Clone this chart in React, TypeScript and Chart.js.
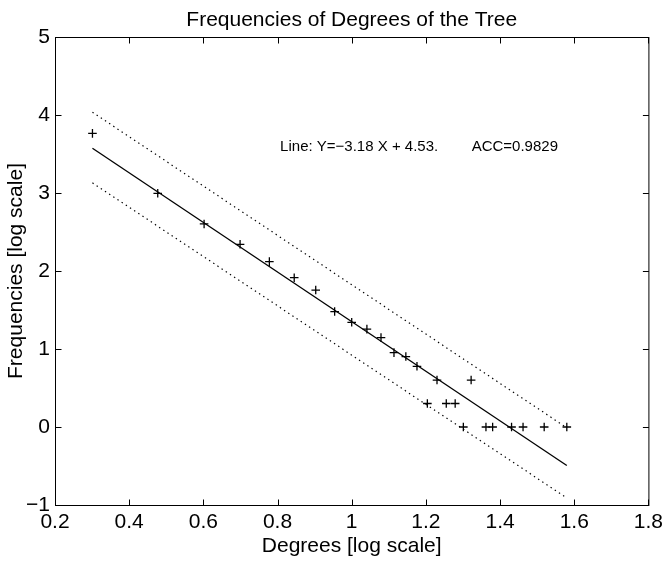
import React, { useEffect, useRef } from "react";
import { Chart, registerables } from "chart.js";

Chart.register(...registerables);

// Data (log10 scales)
const degreesLog = [
  0.301, 0.477, 0.602, 0.699, 0.778, 0.845, 0.903, 0.954, 1.0, 1.041, 1.079, 1.114, 1.146,
  1.176, 1.204, 1.23, 1.255, 1.279, 1.301, 1.322, 1.362, 1.38, 1.431, 1.462, 1.519, 1.58,
];
const frequenciesLog = [
  3.765, 2.996, 2.603, 2.342, 2.12, 1.914, 1.756, 1.48, 1.342, 1.255, 1.146, 0.954, 0.903,
  0.778, 0.301, 0.602, 0.301, 0.301, 0, 0.602, 0, 0, 0, 0, 0, 0,
];

// Regression line and its dotted bounds (end points)
const fitX = [0.301, 1.58];
const fitY = [3.573, -0.494];
const upperY = [4.035, -0.01];
const lowerY = [3.13, -0.91];

const xTicks = [0.2, 0.4, 0.6, 0.8, 1.0, 1.2, 1.4, 1.6, 1.8];
const yTicks = [-1, 0, 1, 2, 3, 4, 5];

const titleText = "Frequencies of Degrees of the Tree";
const xLabel = "Degrees [log scale]";
const yLabel = "Frequencies [log scale]";
const annotationLine = "Line: Y=\u22123.18 X + 4.53.";
const annotationAcc = "ACC=0.9829";
const annotationX = [0.807, 1.3235];
const annotationY = 3.594;

const FONT = "'Liberation Sans', Arial, Helvetica, sans-serif";

const matlabAxes = {
  id: "matlabAxes",
  afterDraw(chart: any) {
    const { ctx, chartArea } = chart;
    const { left, right, top, bottom } = chartArea;
    const xs = chart.scales.x;
    const ys = chart.scales.y;
    ctx.save();
    ctx.strokeStyle = "#000";
    ctx.lineWidth = 1;
    ctx.strokeRect(left + 0.5, top + 0.5, right - left, bottom - top);
    const tl = 6;
    ctx.beginPath();
    xTicks.forEach((v) => {
      const px = Math.round(xs.getPixelForValue(v)) + 0.5;
      ctx.moveTo(px, bottom + 0.5);
      ctx.lineTo(px, bottom + 0.5 - tl);
      ctx.moveTo(px, top + 0.5);
      ctx.lineTo(px, top + 0.5 + tl);
    });
    yTicks.forEach((v) => {
      const py = Math.round(ys.getPixelForValue(v)) + 0.5;
      ctx.moveTo(left + 0.5, py);
      ctx.lineTo(left + 0.5 + tl, py);
      ctx.moveTo(right + 0.5, py);
      ctx.lineTo(right + 0.5 - tl, py);
    });
    ctx.stroke();

    ctx.fillStyle = "#000";
    // title centred over the axes box
    ctx.font = `21px ${FONT}`;
    ctx.textAlign = "center";
    ctx.textBaseline = "middle";
    ctx.fillText(titleText, (left + right) / 2, 20);

    ctx.font = `15px ${FONT}`;
    ctx.textAlign = "left";
    ctx.textBaseline = "middle";
    const ay = ys.getPixelForValue(annotationY);
    ctx.fillText(annotationLine, xs.getPixelForValue(annotationX[0]), ay);
    ctx.fillText(annotationAcc, xs.getPixelForValue(annotationX[1]), ay);
    ctx.restore();
  },
};

function fmtX(v: number) {
  return String(Number(v.toFixed(1)));
}
function fmtY(v: number) {
  return v < 0 ? "\u2212" + Math.abs(v) : String(v);
}

export default function App() {
  const ref = useRef<HTMLCanvasElement | null>(null);

  useEffect(() => {
    if (!ref.current) return;
    Chart.defaults.font.family = FONT;
    Chart.defaults.color = "#000";
    const points = degreesLog.map((x, i) => ({ x, y: frequenciesLog[i] }));
    const fit = fitX.map((x, i) => ({ x, y: fitY[i] }));
    const upper = fitX.map((x, i) => ({ x, y: upperY[i] }));
    const lower = fitX.map((x, i) => ({ x, y: lowerY[i] }));

    const chart = new Chart(ref.current, {
      type: "scatter",
      data: {
        datasets: [
          {
            data: points,
            showLine: false,
            pointStyle: "cross",
            pointRadius: 4.3,
            pointBorderWidth: 1.3,
            borderColor: "#000",
            backgroundColor: "#000",
          },
          {
            data: fit,
            showLine: true,
            pointRadius: 0,
            borderColor: "#000",
            borderWidth: 1.3,
          },
          {
            data: upper,
            showLine: true,
            pointRadius: 0,
            borderColor: "#000",
            borderWidth: 1.2,
            borderDash: [1.4, 3.6],
          },
          {
            data: lower,
            showLine: true,
            pointRadius: 0,
            borderColor: "#000",
            borderWidth: 1.2,
            borderDash: [1.4, 3.6],
          },
        ],
      },
      options: {
        responsive: false,
        animation: false,
        layout: { padding: { left: 0, right: 16, top: 37, bottom: 0 } },
        plugins: {
          legend: { display: false },
          tooltip: { enabled: false },
          title: { display: false },
        },
        scales: {
          x: {
            type: "linear",
            min: 0.2,
            max: 1.8,
            afterBuildTicks: (s: any) => {
              s.ticks = xTicks.map((v) => ({ value: v }));
            },
            afterFit: (s: any) => {
              s.height = 57;
            },
            grid: { display: false, drawTicks: false, tickLength: 0 },
            border: { display: false },
            ticks: {
              autoSkip: false,
              maxRotation: 0,
              padding: 5,
              color: "#000",
              font: { family: FONT, size: 21 },
              callback: (v: any) => fmtX(Number(v)),
            },
            title: {
              display: true,
              text: xLabel,
              color: "#000",
              font: { family: FONT, size: 21 },
              padding: { top: 0, bottom: 3 },
            },
          },
          y: {
            type: "linear",
            min: -1,
            max: 5,
            afterBuildTicks: (s: any) => {
              s.ticks = yTicks.map((v) => ({ value: v }));
            },
            afterFit: (s: any) => {
              s.width = 55;
            },
            grid: { display: false, drawTicks: false, tickLength: 0 },
            border: { display: false },
            ticks: {
              autoSkip: false,
              padding: 5,
              color: "#000",
              font: { family: FONT, size: 21 },
              callback: (v: any) => fmtY(Number(v)),
            },
            title: {
              display: true,
              text: yLabel,
              color: "#000",
              font: { family: FONT, size: 21 },
              padding: { top: 4, bottom: 0 },
            },
          },
        },
      },
      plugins: [matlabAxes],
    } as any);
    return () => chart.destroy();
  }, []);

  return (
    <div
      style={{
        position: "fixed",
        left: 0,
        top: 0,
        width: 668,
        height: 562,
        background: "#fff",
      }}
    >
      <canvas ref={ref} width={668} height={562} style={{ display: "block" }} />
    </div>
  );
}
